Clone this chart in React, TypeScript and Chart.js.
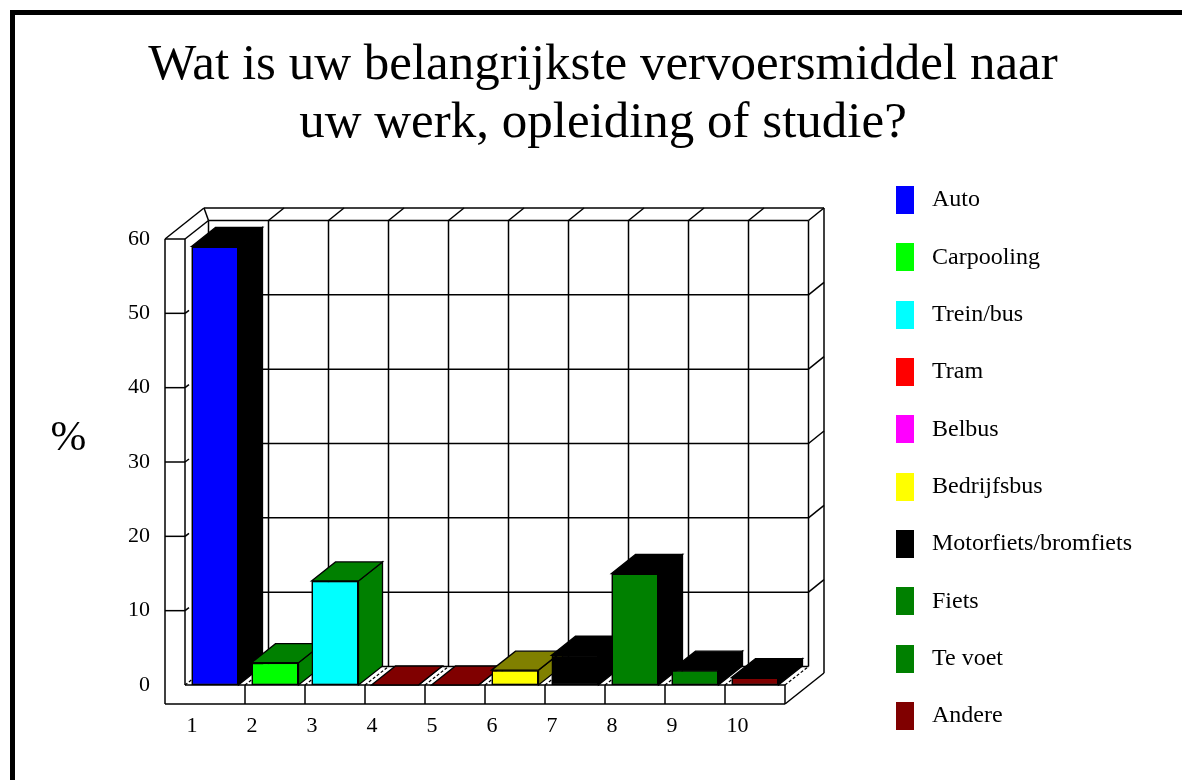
import React, { useEffect, useRef } from 'react';
import { Chart, registerables } from 'chart.js';

Chart.register(...registerables);

// ---------- data ----------
const categories = ['1', '2', '3', '4', '5', '6', '7', '8', '9', '10'];
const modes = [
  'Auto',
  'Carpooling',
  'Trein/bus',
  'Tram',
  'Belbus',
  'Bedrijfsbus',
  'Motorfiets/bromfiets',
  'Fiets',
  'Te voet',
  'Andere',
];
const percentages = [59, 3, 14, 0, 0, 2, 4, 15, 2, 1];
const frontColors = ['#0000ff', '#00ff00', '#00ffff', '#ff0000', '#ff00ff', '#ffff00', '#000000', '#008000', '#008000', '#800000'];
const depthColors = ['#000000', '#008000', '#008000', '#800000', '#800000', '#808000', '#000000', '#000000', '#000000', '#000000'];
const yTicks = [0, 10, 20, 30, 40, 50, 60];
const titleLines = ['Wat is uw belangrijkste vervoersmiddel naar', 'uw werk, opleiding of studie?'];
const yAxisLabel = '%';

// ---------- layout / style ----------
const W = 1182;
const H = 780;
const FONT = "'Liberation Serif', 'Times New Roman', serif";
const PLOT_LEFT = 185;
const PLOT_RIGHT = 785;
const PLOT_BOTTOM = 685;
const LEGEND_X = 896;
const LEGEND_PAD = 33.33;
const LEGEND_W = 275;
const TITLE_CX = 603;
const PAD_RIGHT = W - (LEGEND_X - LEGEND_PAD) - LEGEND_W;
const PAD_LEFT = 2 * TITLE_CX - W + PAD_RIGHT;

const BAR_D = { x: 24, y: -19 };
const WALL_D = { x: 23.5, y: -18.5 };
const OUTER_D = { x: 39, y: -31 };
const WALL_T = 20;
const FLOOR_T = 19;

const box3d = {
  id: 'box3d',
  beforeDraw(chart: any) {
    const { ctx, chartArea: a, scales } = chart;
    const ys = scales.y;
    const xs = scales.x;
    const L = a.left, R = a.right, T = a.top, B = a.bottom;
    const n = categories.length;
    const catW = (R - L) / n;
    const bounds: number[] = [];
    for (let i = 0; i < n; i++) bounds.push(xs.getPixelForValue(i) - catW / 2);
    bounds.push(xs.getPixelForValue(n - 1) + catW / 2);

    ctx.save();
    ctx.fillStyle = '#ffffff';
    ctx.fillRect(0, 0, chart.width, chart.height);
    // frame border (top + left)
    ctx.fillStyle = '#000000';
    ctx.fillRect(10, 10, chart.width - 10, 5);
    ctx.fillRect(10, 10, 5, chart.height - 10);

    ctx.strokeStyle = '#000000';
    ctx.lineWidth = 1.5;
    const line = (x1: number, y1: number, x2: number, y2: number) => {
      ctx.beginPath();
      ctx.moveTo(x1, y1);
      ctx.lineTo(x2, y2);
      ctx.stroke();
    };

    // back wall grid
    yTicks.forEach((v) => {
      const y = ys.getPixelForValue(v) + WALL_D.y;
      line(L + WALL_D.x, y, R + WALL_D.x, y);
    });
    bounds.forEach((b) => line(b + WALL_D.x, T + WALL_D.y, b + WALL_D.x, B + WALL_D.y));

    // left wall
    line(L - WALL_T, T, L - WALL_T, B + FLOOR_T);
    line(L, T, L, B);
    line(L - WALL_T, T, L, T);
    yTicks.forEach((v) => {
      if (v === 0 || v === yTicks[yTicks.length - 1]) return;
      const y = ys.getPixelForValue(v);
      line(L - WALL_T, y, L, y);
      line(L, y, L + 4, y - 3);
    });
    line(L - WALL_T, T, L - WALL_T + OUTER_D.x, T + OUTER_D.y);
    line(L, T, L + WALL_D.x, T + WALL_D.y);
    line(L + WALL_D.x, T + WALL_D.y, L - WALL_T + OUTER_D.x, T + OUTER_D.y);

    // top slab
    line(L - WALL_T + OUTER_D.x, T + OUTER_D.y, R + OUTER_D.x, T + OUTER_D.y);
    bounds.slice(1).forEach((b) =>
      line(b + WALL_D.x, T + WALL_D.y, b + OUTER_D.x, T + OUTER_D.y)
    );

    // right slab
    line(R + OUTER_D.x, T + OUTER_D.y, R + OUTER_D.x, B + FLOOR_T + OUTER_D.y);
    yTicks.forEach((v) => {
      if (v === 0 || v === yTicks[yTicks.length - 1]) return;
      const y = ys.getPixelForValue(v);
      line(R + WALL_D.x, y + WALL_D.y, R + OUTER_D.x, y + OUTER_D.y);
    });

    // floor
    line(L, B, R, B);
    line(L - WALL_T, B + FLOOR_T, R, B + FLOOR_T);
    bounds.slice(1).forEach((b) => line(b, B, b, B + FLOOR_T));
    line(R, B + FLOOR_T, R + OUTER_D.x, B + FLOOR_T + OUTER_D.y);
    ctx.lineWidth = 1.2;
    ctx.setLineDash([3, 2]);
    bounds.forEach((b) => line(b, B, b + WALL_D.x, B + WALL_D.y));
    ctx.setLineDash([]);
    ctx.restore();
  },
  afterDatasetsDraw(chart: any) {
    const { ctx } = chart;
    const meta = chart.getDatasetMeta(0);
    ctx.save();
    ctx.strokeStyle = '#000000';
    ctx.lineWidth = 1.3;
    const poly = (pts: number[][], fill: string) => {
      ctx.beginPath();
      ctx.moveTo(pts[0][0], pts[0][1]);
      for (let k = 1; k < pts.length; k++) ctx.lineTo(pts[k][0], pts[k][1]);
      ctx.closePath();
      ctx.fillStyle = fill;
      ctx.fill();
      ctx.stroke();
    };
    meta.data.forEach((el: any, i: number) => {
      const { x, y, base, width } = el.getProps(['x', 'y', 'base', 'width'], true);
      const l = x - width / 2;
      const r = x + width / 2;
      poly([[r, y], [r + BAR_D.x, y + BAR_D.y], [r + BAR_D.x, base + BAR_D.y], [r, base]], depthColors[i]);
      poly([[l, y], [l + BAR_D.x, y + BAR_D.y], [r + BAR_D.x, y + BAR_D.y], [r, y]], depthColors[i]);
      el.draw(ctx);
    });
    ctx.restore();
  },
  afterDraw(chart: any) {
    const { ctx } = chart;
    ctx.save();
    ctx.fillStyle = '#000000';
    ctx.font = `43px ${FONT}`;
    ctx.textAlign = 'center';
    ctx.textBaseline = 'alphabetic';
    ctx.fillText(yAxisLabel, 68.5, 450);
    ctx.restore();
  },
};

export default function App() {
  const ref = useRef<HTMLCanvasElement>(null);

  useEffect(() => {
    const swatches = frontColors.map((c) => {
      const cv = document.createElement('canvas');
      cv.width = 24;
      cv.height = 28;
      const g = cv.getContext('2d')!;
      g.fillStyle = c;
      g.fillRect(0, 0, 18, 28);
      return cv;
    });

    const chart = new Chart(ref.current!, {
      type: 'bar',
      data: {
        labels: categories,
        datasets: [
          {
            label: 'Vervoersmiddel',
            data: percentages,
            backgroundColor: frontColors,
            borderColor: '#000000',
            borderWidth: 1.5,
            borderSkipped: false,
            barPercentage: 47 / 60,
            categoryPercentage: 1,
          },
        ],
      },
      options: {
        responsive: false,
        animation: false,
        devicePixelRatio: 1,
        layout: { padding: { left: PAD_LEFT, right: PAD_RIGHT, top: 0, bottom: 0 } },
        scales: {
          x: {
            type: 'category',
            grid: { display: false, drawTicks: false },
            border: { display: false },
            ticks: {
              color: '#000000',
              font: { family: FONT, size: 22 },
              align: 'start',
              labelOffset: -28.5,
              padding: 28.3,
              maxRotation: 0,
              autoSkip: false,
            },
            afterFit: (s: any) => {
              s.height = H - PLOT_BOTTOM;
            },
          },
          y: {
            type: 'linear',
            position: 'left',
            min: 0,
            max: 60,
            grid: { display: false, drawTicks: false },
            border: { display: false },
            ticks: {
              stepSize: 10,
              color: '#000000',
              font: { family: FONT, size: 22 },
              padding: 35,
            },
            afterFit: (s: any) => {
              s.width = PLOT_LEFT - PAD_LEFT;
            },
          },
          y2: {
            type: 'linear',
            position: 'right',
            display: true,
            grid: { display: false, drawTicks: false },
            border: { display: false },
            ticks: { display: false },
            afterFit: (s: any) => {
              s.width = LEGEND_X - LEGEND_PAD - PLOT_RIGHT;
            },
          },
        },
        plugins: {
          tooltip: { enabled: false },
          title: {
            display: true,
            text: titleLines,
            color: '#000000',
            font: { family: FONT, size: 51, weight: 'normal', lineHeight: '58px' },
            padding: { top: 36.5, bottom: 86.5 },
          },
          legend: {
            display: true,
            position: 'right',
            align: 'start',
            maxWidth: LEGEND_W,
            title: {
              display: true,
              text: '',
              font: { size: 10, lineHeight: '154.67px' },
              padding: 0,
            },
            labels: {
              color: '#000000',
              font: { family: FONT, size: 24 },
              usePointStyle: true,
              pointStyleWidth: 24,
              padding: LEGEND_PAD,
              generateLabels: () =>
                modes.map((m, i) => ({
                  text: m,
                  fillStyle: frontColors[i],
                  strokeStyle: frontColors[i],
                  lineWidth: 0,
                  hidden: false,
                  index: i,
                  pointStyle: swatches[i],
                  fontColor: '#000000',
                })),
            },
          },
        },
      },
      plugins: [box3d],
    } as any);

    return () => chart.destroy();
  }, []);

  return (
    <div style={{ position: 'fixed', left: 0, top: 0, width: W, height: H, background: '#ffffff' }}>
      <canvas ref={ref} width={W} height={H} />
    </div>
  );
}
